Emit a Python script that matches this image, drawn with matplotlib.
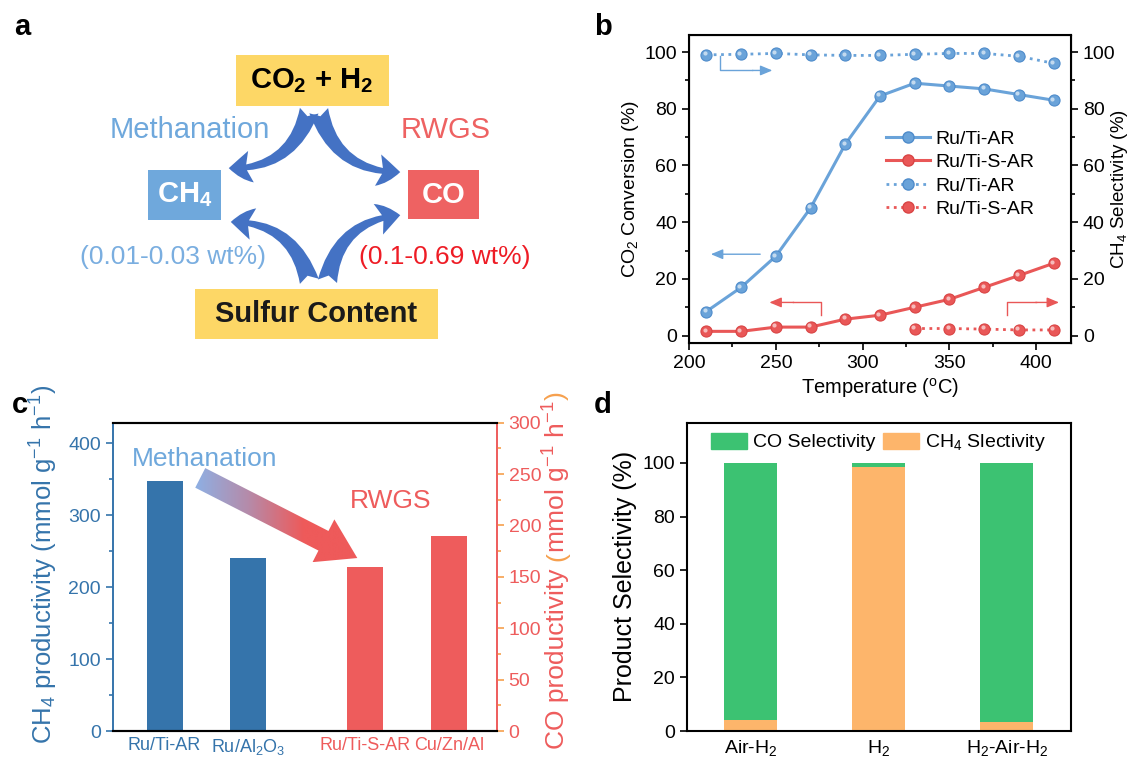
import numpy as np
import matplotlib
matplotlib.use("Agg")
import matplotlib.pyplot as plt
from matplotlib.patches import Rectangle, FancyArrowPatch, Polygon, Patch
from matplotlib.lines import Line2D
from matplotlib.colors import LinearSegmentedColormap
from matplotlib.transforms import offset_copy, IdentityTransform

plt.rcParams['font.family'] = ['Liberation Sans', 'DejaVu Sans']
plt.rcParams['mathtext.default'] = 'regular'

# ---- data ----
temps = [210, 230, 250, 270, 290, 310, 330, 350, 370, 390, 410]
conv_ar = [8.5, 17, 28, 45, 67.5, 84.5, 89, 88, 87, 85, 83]
conv_sar = [1.5, 1.5, 3, 3, 5.8, 7.2, 10, 12.8, 17, 21.2, 25.5]
sel_ar = [99, 99.2, 99.5, 99, 98.8, 98.8, 99.2, 99.5, 99.5, 98.5, 96]
temps_sel_sar = [330, 350, 370, 390, 410]
sel_sar = [2.5, 2.5, 2.3, 2.0, 2.0]

cat_ch4 = ['Ru/Ti-AR', 'Ru/Al$_2$O$_3$']
ch4_prod = [348, 241]
cat_co = ['Ru/Ti-S-AR', 'Cu/Zn/Al']
co_prod = [160, 190]

treat = ['Air-H$_2$', 'H$_2$', 'H$_2$-Air-H$_2$']
ch4_sel = [4.0, 98.3, 3.2]
co_sel = [96.0, 1.7, 96.8]

BLUE = '#6aa3d9'
BLUE_E = '#4f8ccb'
RED = '#e95757'
RED_E = '#d94545'
W, H = 1131, 762
TS = 14  # tick label size

fig = plt.figure(figsize=(W / 100, H / 100), dpi=100)


def px_axes(l, t, r, b):
    return fig.add_axes([l / W, 1 - b / H, (r - l) / W, (b - t) / H])


# ---- panel a: scheme ----
axa = fig.add_axes([0, 1 - 380 / H, 560 / W, 380 / H])
axa.set_xlim(0, 560)
axa.set_ylim(380, 0)
axa.axis('off')

YEL = '#fdd766'
for (x0, y0, x1, y1, c) in [(235.7, 55, 389, 105.7, YEL), (148, 170, 220.7, 220, '#6fa8dc'),
                            (407.7, 170, 479, 219, '#ee6262'), (195, 289, 437.7, 339, YEL)]:
    axa.add_patch(Rectangle((x0, y0), x1 - x0, y1 - y0, color=c, lw=0))
axa.text(312, 81, 'CO$_2$ + H$_2$', ha='center', va='center', fontsize=21, fontweight='bold')
axa.text(184.5, 195, 'CH$_4$', ha='center', va='center', fontsize=21, fontweight='bold', color='white')
axa.text(443.5, 195, 'CO', ha='center', va='center', fontsize=21, fontweight='bold', color='white')
axa.text(316, 314, 'Sulfur Content', ha='center', va='center', fontsize=21, fontweight='bold', color='#1a1a1a')
axa.text(190, 130, 'Methanation', ha='center', va='center', fontsize=21, color='#6fa8dc')
axa.text(446, 130, 'RWGS', ha='center', va='center', fontsize=21, color='#ee6262')
axa.text(173, 257, '(0.01-0.03 wt%)', ha='center', va='center', fontsize=19, color='#7aaee0')
axa.text(445, 257, '(0.1-0.69 wt%)', ha='center', va='center', fontsize=19, color='#ee1c25')

arr_style = 'fancy,head_length=0.8,head_width=1.15,tail_width=0.7'
for start, end, rad in [((310, 108), (226, 168), -0.4), ((318, 108), (403, 172), 0.4),
                        ((310, 284), (228, 222), 0.4), ((327, 284), (403, 215), -0.4)]:
    axa.add_patch(FancyArrowPatch(start, end, connectionstyle=f'arc3,rad={rad}',
                                  arrowstyle=arr_style, mutation_scale=20,
                                  color='#4472c4', lw=0))

# ---- panel b ----
axb = px_axes(689, 35, 1071, 342.7)
axb2 = axb.twinx()


def spheres(ax, x, y, face, edge, ls):
    ax.plot(x, y, ls=ls, color=face, lw=2.2 if ls == '-' else 2.0, marker='o', ms=8,
            mfc=face, mec=edge, mew=0.8, zorder=3)
    hl = offset_copy(ax.transData, fig=fig, x=-1.2, y=1.2, units='points')
    ax.plot(x, y, ls='none', marker='o', ms=3, mfc='white', mec='none', alpha=0.6,
            transform=hl, zorder=4)


spheres(axb, temps, conv_ar, BLUE, BLUE_E, '-')
spheres(axb, temps, conv_sar, RED, RED_E, '-')
spheres(axb2, temps, sel_ar, BLUE, BLUE_E, ':')
spheres(axb2, temps_sel_sar, sel_sar, RED, RED_E, ':')

for a in (axb, axb2):
    a.set_ylim(-2.5, 106)
    a.set_yticks(range(0, 101, 20))
    a.set_yticks(range(10, 100, 20), minor=True)
    a.tick_params(which='both', direction='out', labelsize=TS, width=1.2)
    a.tick_params(which='major', length=5)
    a.tick_params(which='minor', length=3)
axb.set_xlim(200, 420)
axb.set_xticks(range(200, 401, 50))
axb.set_xticks(range(225, 420, 50), minor=True)
for s in axb.spines.values():
    s.set_linewidth(1.5)
axb.set_xlabel('Temperature ($^o$C)', fontsize=14.5, labelpad=3)
axb.set_ylabel('CO$_2$ Conversion (%)', fontsize=14)
axb2.set_ylabel('CH$_4$ Selectivity (%)', fontsize=13.5)
axb.yaxis.set_label_coords(-0.125, 0.5)
axb2.yaxis.set_label_coords(1.10, 0.5)

# direction arrows
ak = dict(arrowstyle='-|>,head_length=0.6,head_width=0.25', mutation_scale=12, lw=1.0)
axb.plot([218, 218, 236], [98.5, 93.5, 93.5], color=BLUE, lw=1.0)
axb.annotate('', xy=(249.6, 93.5), xytext=(235, 93.5), arrowprops=dict(color=BLUE, **ak))
axb.annotate('', xy=(211, 28.7), xytext=(242.6, 28.7), arrowprops=dict(color=BLUE, **ak))
axb.plot([276, 276, 260], [7.2, 11.7, 11.7], color=RED, lw=1.0)
axb.annotate('', xy=(244.7, 11.7), xytext=(262, 11.7), arrowprops=dict(color=RED, **ak))
axb.plot([383, 383, 400], [7.2, 11.7, 11.7], color=RED, lw=1.0)
axb.annotate('', xy=(414.7, 11.7), xytext=(398, 11.7), arrowprops=dict(color=RED, **ak))

handles = [Line2D([], [], color=BLUE, lw=2.2, marker='o', ms=8, mec=BLUE_E),
           Line2D([], [], color=RED, lw=2.2, marker='o', ms=8, mec=RED_E),
           Line2D([], [], color=BLUE, lw=2.0, ls=':', marker='o', ms=8, mec=BLUE_E),
           Line2D([], [], color=RED, lw=2.0, ls=':', marker='o', ms=8, mec=RED_E)]
axb.legend(handles, ['Ru/Ti-AR', 'Ru/Ti-S-AR', 'Ru/Ti-AR', 'Ru/Ti-S-AR'],
           loc='center left', bbox_to_anchor=(0.49, 0.548), frameon=False, fontsize=14,
           handlelength=2.25, handletextpad=0.3, labelspacing=0.3, borderpad=0)

# ---- panel c ----
CBLUE = '#3574ab'
CRED = '#ee5c5c'
CORA = '#f6a04d'
axc = px_axes(112.7, 422.7, 496.7, 731)
axc2 = axc.twinx()
x_ch4 = [1, 2]
x_co = [3.4, 4.4]
axc.bar(x_ch4, ch4_prod, width=0.43, color=CBLUE)
axc2.bar(x_co, co_prod, width=0.43, color=CRED)
axc.set_xlim(0.38, 4.97)
axc.set_ylim(0, 300 / 0.7)
axc2.set_ylim(0, 300)
axc.set_yticks(range(0, 401, 100))
axc.set_yticks(range(50, 401, 100), minor=True)
axc2.set_yticks(range(0, 301, 50))
axc2.set_yticks(range(25, 300, 50), minor=True)
axc.set_xticks(x_ch4 + x_co)
axc.set_xticklabels(cat_ch4 + cat_co, fontsize=13)
for lab, c in zip(axc.get_xticklabels(), [CBLUE, CBLUE, CRED, CRED]):
    lab.set_color(c)
axc.tick_params(axis='x', length=0, pad=4)
axc.tick_params(axis='y', which='both', colors=CBLUE, labelsize=TS, width=1.2)
axc.tick_params(axis='y', which='major', length=5)
axc.tick_params(axis='y', which='minor', length=3)
axc2.tick_params(axis='y', which='both', colors=CORA, labelcolor=CRED, labelsize=TS, width=1.2)
axc2.tick_params(axis='y', which='major', length=5)
axc2.tick_params(axis='y', which='minor', length=3)
for a in (axc, axc2):
    a.spines['top'].set_linewidth(1.5)
    a.spines['bottom'].set_linewidth(1.5)
    a.spines['left'].set_color(CBLUE)
    a.spines['right'].set_color(CRED)
    a.spines['left'].set_linewidth(1.2)
    a.spines['right'].set_linewidth(1.2)
axc.set_ylabel('CH$_4$ productivity (mmol g$^{-1}$ h$^{-1}$)', fontsize=18.5, color=CBLUE)
axc.yaxis.set_label_coords(-0.137, 0.54)

axc.text(0.05, 378, 'Methanation', fontsize=19, color='#6fa8dc', va='center',
         transform=axc.get_yaxis_transform())
axc.text(0.725, 320, 'RWGS', fontsize=19, color=CRED, va='center', ha='center',
         transform=axc.get_yaxis_transform())

# gradient block arrow (built in pixel units of the axes, then scaled)
aw, ah = 384.0, 308.3
p0 = np.array([0.228 * aw, 0.821 * ah])
p1 = np.array([0.637 * aw, 0.561 * ah])
d = (p1 - p0) / np.linalg.norm(p1 - p0)
n = np.array([-d[1], d[0]])
L = np.linalg.norm(p1 - p0)
bw, hw, hl = 11, 24, 38
hb = p0 + d * (L - hl)
pts = [p0 + n * bw, hb + n * bw, hb + n * hw, p1, hb - n * hw, hb - n * bw, p0 - n * bw]
pts = np.array(pts) / [aw, ah]
poly = Polygon(pts, closed=True, transform=axc.transAxes, facecolor='none', edgecolor='none')
axc2.add_patch(poly)
cmap = LinearSegmentedColormap.from_list('mr', ['#8eb0e4', '#b68aa8', '#ee5a5a', '#ee5a5a'])
grad = np.linspace(0, 1, 256).reshape(1, -1)
im = axc2.imshow(grad, cmap=cmap, aspect='auto', extent=[pts[:, 0].min(), pts[:, 0].max(),
                 pts[:, 1].min(), pts[:, 1].max()], transform=axc.transAxes, zorder=5)
im.set_clip_path(poly)
axc2.set_xlim(0.38, 4.97)
axc2.set_ylim(0, 300)

# right label of panel c in two colours (parentheses orange)
renderer = fig.canvas.get_renderer()
parts = [('CO productivity ', CRED), ('(', CORA), ('mmol g$^{-1}$ h$^{-1}$', CRED), (')', CORA)]
lab_kw = dict(fontsize=19, rotation=90, rotation_mode='anchor', ha='left', va='center',
              transform=IdentityTransform())


def text_len(s):
    t = fig.text(0, 0, s, **lab_kw)
    n_ = t.get_window_extent(renderer).height
    t.remove()
    return n_


full = ''.join(p for p, _ in parts)
total = text_len(full)
yc = H - 570
xc = 557
prefix = ''
for s, c in parts:
    off = text_len(prefix + s) - text_len(s) if prefix else 0
    fig.text(xc, yc - total / 2 + off, s, color=c, **lab_kw)
    prefix += s

# ---- panel d ----
GREEN = '#3cc272'
ORANGE = '#fdb56b'
axd = px_axes(686.7, 422.7, 1070.7, 731)
xd = np.arange(len(treat))
axd.bar(xd, ch4_sel, width=0.41, color=ORANGE)
axd.bar(xd, co_sel, width=0.41, bottom=ch4_sel, color=GREEN)
axd.set_xlim(-0.5, 2.5)
axd.set_ylim(0, 115)
axd.set_yticks(range(0, 101, 20))
axd.set_xticks(xd)
axd.set_xticklabels(treat, fontsize=TS)
axd.tick_params(axis='x', length=0, pad=5)
axd.tick_params(axis='y', direction='out', length=5, width=1.2, labelsize=TS)
for s in axd.spines.values():
    s.set_linewidth(1.5)
axd.set_ylabel('Product Selectivity (%)', fontsize=18)
axd.yaxis.set_label_coords(-0.129, 0.5)
axd.legend([Patch(color=GREEN), Patch(color=ORANGE)], ['CO Selectivity', 'CH$_4$ Slectivity'],
           loc='upper center', bbox_to_anchor=(0.5, 1.0), ncol=2, frameon=False, fontsize=14,
           handlelength=1.85, handleheight=0.9, handletextpad=0.3, columnspacing=0.4,
           borderaxespad=0, borderpad=0.5)

# ---- panel letters ----
for lab, x, y in [('a', 22, 27), ('b', 603, 27), ('c', 20, 405), ('d', 603, 405)]:
    fig.text(x / W, 1 - y / H, lab, fontsize=21, fontweight='bold', ha='center', va='center')

fig.savefig('out.png', dpi=100)
